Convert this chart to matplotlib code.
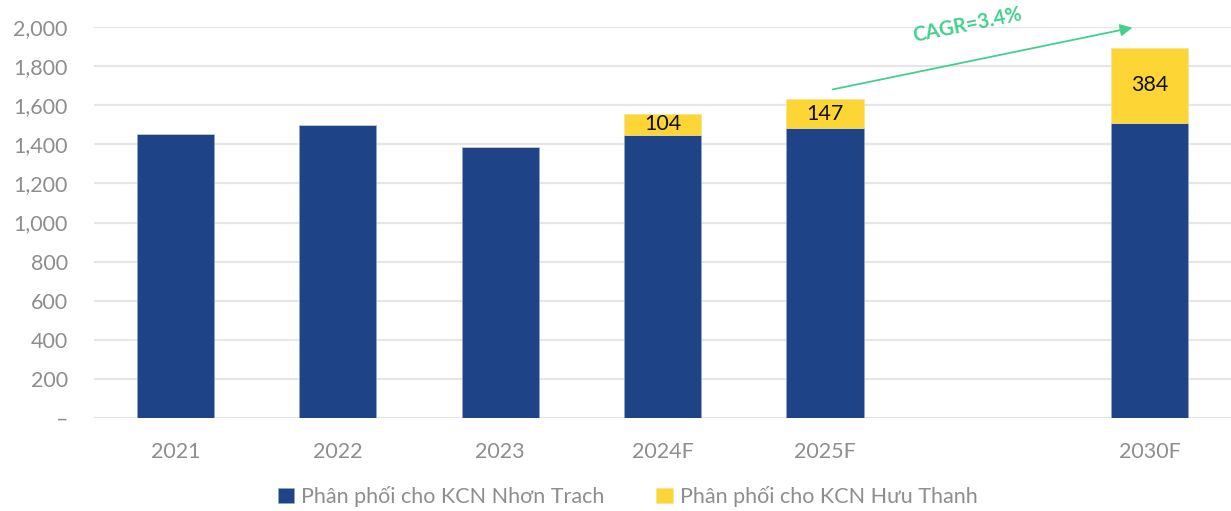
import matplotlib
matplotlib.use("Agg")
import matplotlib.pyplot as plt
import numpy as np

# categories (one empty slot between 2025F and 2030F)
years = ["2021", "2022", "2023", "2024F", "2025F", "", "2030F"]
nhon_trach = [1453, 1499, 1386, 1450, 1483, 0, 1511]
huu_thanh = [0, 0, 0, 104, 147, 0, 384]
cagr_label = "CAGR=3.4%"

blue = "#1F4387"
yellow = "#FDD535"
green = "#43D08E"
grey = "#8E8E8E"

plt.rcParams["font.family"] = ["Lato", "DejaVu Sans"]

fig = plt.figure(figsize=(12.31, 5.11), dpi=100)
ax = fig.add_axes([0.0764, 0.182, 0.9236, 0.765])

x = np.arange(len(years))
w = 0.475
ax.bar(x, nhon_trach, w, color=blue, edgecolor="#9AA8C8", linewidth=0.4,
       label="Phân phối cho KCN Nhơn Trach", zorder=3)
ax.bar(x, huu_thanh, w, bottom=nhon_trach, color=yellow, edgecolor="#F0E2A0",
       linewidth=0.4, label="Phân phối cho KCN Hưu Thanh", zorder=3)

for i in range(len(years)):
    if huu_thanh[i] > 0:
        ax.text(x[i], nhon_trach[i] + huu_thanh[i] / 2, str(huu_thanh[i]),
                ha="center", va="center", fontsize=15.5, color="#111111",
                zorder=4)

# growth arrow 2025F -> 2030F
ax.annotate("", xy=(5.91, 2000), xytext=(4.03, 1678),
            arrowprops=dict(arrowstyle="-|>", color=green, lw=1.3,
                            mutation_scale=18),
            annotation_clip=False, zorder=5)
ax.text(4.88, 2008, cagr_label, rotation=11.5, ha="center", va="center",
        fontsize=14.5, fontweight="bold", color=green, zorder=5)

ax.set_xlim(-0.5, len(years) - 0.5)
ax.set_ylim(0, 2000)
ax.set_yticks(np.arange(0, 2001, 200))
ax.set_yticklabels(["–"] + [f"{v:,}" for v in range(200, 2001, 200)])
ax.set_xticks(x)
ax.set_xticklabels(years)
ax.tick_params(axis="both", length=0, labelsize=15.5, labelcolor=grey)
ax.tick_params(axis="y", pad=19)
ax.tick_params(axis="x", pad=17)

ax.yaxis.grid(True, color="#E6E6E6", linewidth=1.6, zorder=0)
ax.set_axisbelow(True)
for s in ax.spines.values():
    s.set_visible(False)

leg = fig.legend(loc="lower center", bbox_to_anchor=(0.51, -0.03), ncol=2,
                 frameon=False, handlelength=0.75,
                 handleheight=0.75, handletextpad=0.35, columnspacing=2.4,
                 prop={"size": 15.5})
for t in leg.get_texts():
    t.set_color(grey)

fig.savefig("out.png", dpi=100)
